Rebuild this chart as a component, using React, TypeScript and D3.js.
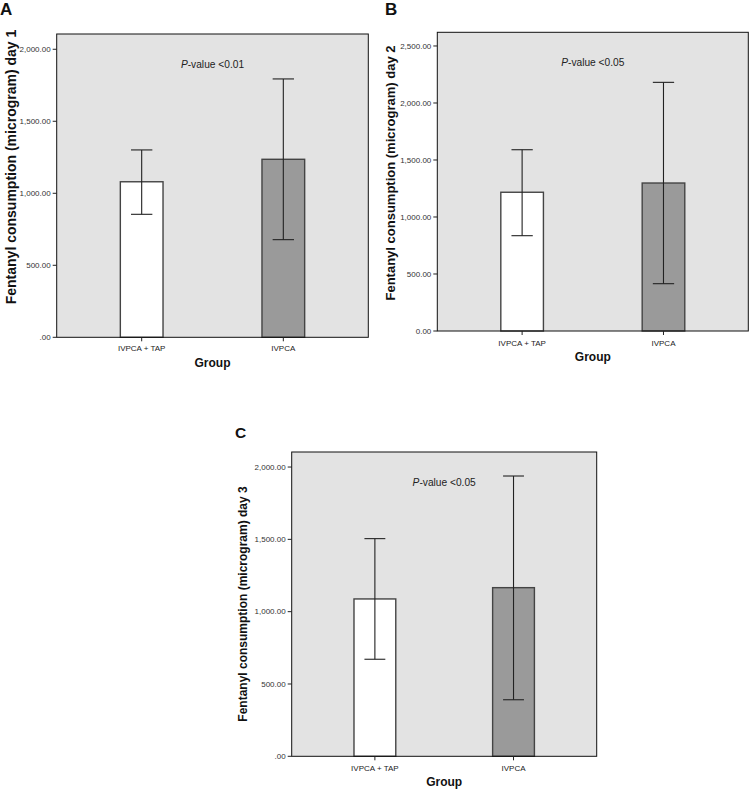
import React from "react";
import * as d3 from "d3";

const groups = ["IVPCA + TAP", "IVPCA"];

const day1Mean = [1080, 1236];
const day1Upper = [1301, 1794];
const day1Lower = [854, 678];

const day2Mean = [1217, 1298];
const day2Upper = [1590, 2181];
const day2Lower = [836, 415];

const day3Mean = [1088, 1166];
const day3Upper = [1505, 1938];
const day3Lower = [671, 391];

const ticks2000 = [0, 500, 1000, 1500, 2000];
const ticks2500 = [0, 500, 1000, 1500, 2000, 2500];

const FONT = "'Liberation Sans', Arial, Helvetica, sans-serif";
const barFills = ["#ffffff", "#9a9a9a"];

const fmt = d3.format(",.2f");

type PanelProps = {
  letter: string;
  letterPos: [number, number];
  letterSize: number;
  left: number;
  top: number;
  width: number;
  height: number;
  yMax: number;
  ticks: number[];
  zeroLabel: string;
  mean: number[];
  upper: number[];
  lower: number[];
  yLabel: string;
  yLabelPos: [number, number];
  yLabelSize: number;
  groupY: number;
  xTickY: number;
  pValue: string;
};

function Panel(p: PanelProps) {
  const x = d3.scalePoint<string>().domain(groups).range([p.left, p.left + p.width]).padding(0.6);
  const y = d3.scaleLinear().domain([0, p.yMax]).range([p.top + p.height, p.top]);
  const barW = p.width * 0.137;
  const capW = barW * 0.5;
  const bottom = p.top + p.height;
  const cx = p.left + p.width / 2;

  return (
    <g>
      <text x={p.letterPos[0]} y={p.letterPos[1]} fontSize={p.letterSize} fontWeight="bold" fontFamily={FONT} fill="#111">
        {p.letter}
      </text>
      <rect x={p.left} y={p.top} width={p.width} height={p.height} fill="#e3e3e3" stroke="none" />

      {groups.map((g, i) => (
        <rect
          key={g}
          x={(x(g) as number) - barW / 2}
          y={y(p.mean[i])}
          width={barW}
          height={bottom - y(p.mean[i])}
          fill={barFills[i]}
          stroke="#444"
          strokeWidth={1.4}
        />
      ))}

      {groups.map((g, i) => {
        const gx = x(g) as number;
        return (
          <g key={g} stroke="#222" strokeWidth={1.1}>
            <line x1={gx} x2={gx} y1={y(p.upper[i])} y2={y(p.lower[i])} />
            <line x1={gx - capW / 2} x2={gx + capW / 2} y1={y(p.upper[i])} y2={y(p.upper[i])} />
            <line x1={gx - capW / 2} x2={gx + capW / 2} y1={y(p.lower[i])} y2={y(p.lower[i])} />
          </g>
        );
      })}

      <rect x={p.left} y={p.top} width={p.width} height={p.height} fill="none" stroke="#111" strokeWidth={1} />

      {p.ticks.map((t) => (
        <g key={t}>
          <line x1={p.left - 4} x2={p.left} y1={y(t)} y2={y(t)} stroke="#222" strokeWidth={1} />
          <text
            x={p.left - 6}
            y={y(t)}
            dy="0.33em"
            textAnchor="end"
            fontSize={8}
            fontFamily={FONT}
            fill="#333"
          >
            {t === 0 ? p.zeroLabel : fmt(t)}
          </text>
        </g>
      ))}

      {groups.map((g) => (
        <g key={g}>
          <line x1={x(g)} x2={x(g)} y1={bottom} y2={bottom + 4} stroke="#222" strokeWidth={1} />
          <text x={x(g)} y={p.xTickY} dy="0.33em" textAnchor="middle" fontSize={8} fontFamily={FONT} fill="#222">
            {g}
          </text>
        </g>
      ))}

      <text x={cx} y={p.groupY} dy="0.35em" textAnchor="middle" fontSize={12} fontWeight="bold" fontFamily={FONT} fill="#111">
        Group
      </text>

      <text
        transform={`translate(${p.yLabelPos[0]},${p.yLabelPos[1]}) rotate(-90)`}
        dy="0.35em"
        textAnchor="middle"
        fontSize={p.yLabelSize}
        fontWeight="bold"
        fontFamily={FONT}
        fill="#111"
      >
        {p.yLabel}
      </text>

      <text x={cx} y={p.top + 30} dy="0.35em" textAnchor="middle" fontSize={10.2} fontFamily={FONT} fill="#222">
        <tspan fontStyle="italic">P</tspan>
        {p.pValue}
      </text>
    </g>
  );
}

export default function App() {
  return (
    <svg width={749} height={789} style={{ position: "absolute", left: 0, top: 0, background: "#fff" }}>
      <Panel
        letter="A"
        letterPos={[0, 15]}
        letterSize={17}
        left={56.7}
        top={34}
        width={311.6}
        height={303.3}
        yMax={2106}
        ticks={ticks2000}
        zeroLabel=".00"
        mean={day1Mean}
        upper={day1Upper}
        lower={day1Lower}
        yLabel="Fentanyl consumption (microgram) day 1"
        yLabelPos={[11, 167]}
        yLabelSize={14}
        groupY={363}
        xTickY={348}
        pValue="-value <0.01"
      />
      <Panel
        letter="B"
        letterPos={[385, 15]}
        letterSize={17}
        left={437.3}
        top={32.3}
        width={311}
        height={298.7}
        yMax={2620}
        ticks={ticks2500}
        zeroLabel="0.00"
        mean={day2Mean}
        upper={day2Upper}
        lower={day2Lower}
        yLabel="Fentanyl consumption (microgram) day 2"
        yLabelPos={[390, 173]}
        yLabelSize={13}
        groupY={357}
        xTickY={343}
        pValue="-value <0.05"
      />
      <Panel
        letter="C"
        letterPos={[235, 438]}
        letterSize={15.5}
        left={291.7}
        top={452}
        width={305}
        height={304.3}
        yMax={2104}
        ticks={ticks2000}
        zeroLabel=".00"
        mean={day3Mean}
        upper={day3Upper}
        lower={day3Lower}
        yLabel="Fentanyl consumption (microgram) day 3"
        yLabelPos={[243, 604]}
        yLabelSize={12}
        groupY={782}
        xTickY={768}
        pValue="-value <0.05"
      />
    </svg>
  );
}
